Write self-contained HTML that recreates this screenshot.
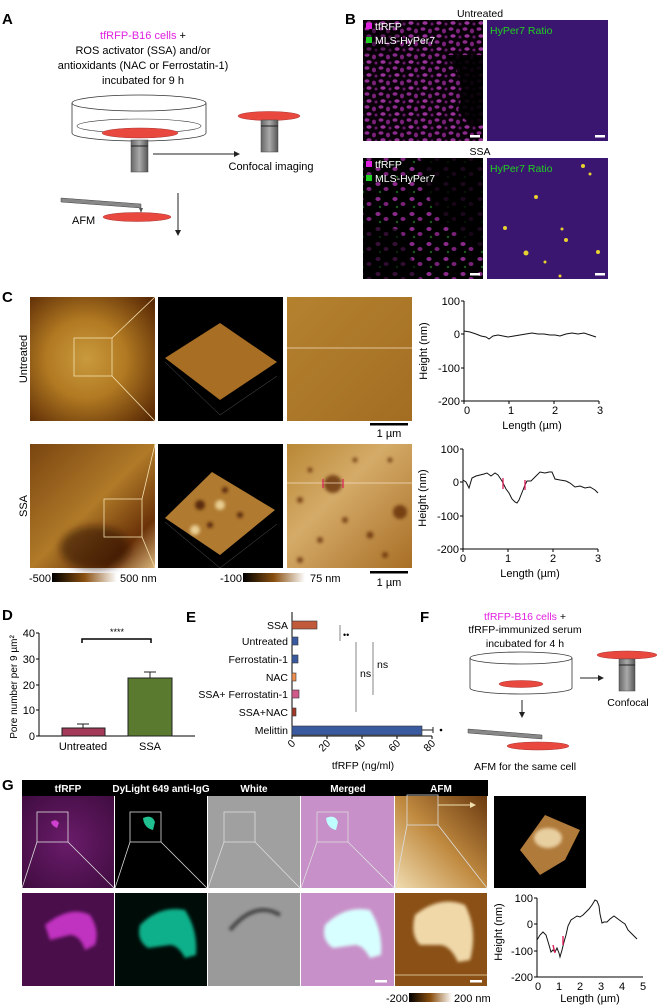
<!DOCTYPE html>
<html><head><meta charset="utf-8"><style>
html,body{margin:0;padding:0;background:#fff}
svg{display:block}
text{font-family:"Liberation Sans",Arial,sans-serif}
</style></head><body>
<svg width="657" height="1007" viewBox="0 0 657 1007" xmlns="http://www.w3.org/2000/svg">
<defs>
<filter id="bl" x="-20%" y="-20%" width="140%" height="140%"><feGaussianBlur stdDeviation="1.6"/></filter>
<filter id="bl2" x="-30%" y="-30%" width="160%" height="160%"><feGaussianBlur stdDeviation="4"/></filter>
<radialGradient id="afm1" cx="0.45" cy="0.5" r="0.7"><stop offset="0" stop-color="#c99a3e"/><stop offset="0.45" stop-color="#b27a22"/><stop offset="1" stop-color="#5a2a05"/></radialGradient>
<linearGradient id="afm2" x1="0" y1="0" x2="1" y2="1"><stop offset="0" stop-color="#7a4510"/><stop offset="0.5" stop-color="#b07a28"/><stop offset="0.8" stop-color="#6a3208"/><stop offset="1" stop-color="#d8b47a"/></linearGradient>
<linearGradient id="flat" x1="0" y1="0" x2="1" y2="1"><stop offset="0" stop-color="#b4822f"/><stop offset="1" stop-color="#a36d22"/></linearGradient>
<linearGradient id="ssa3" x1="0" y1="0" x2="1" y2="1"><stop offset="0" stop-color="#b98835"/><stop offset="0.4" stop-color="#d4ab68"/><stop offset="1" stop-color="#a86e25"/></linearGradient>
<linearGradient id="cb" x1="0" x2="1"><stop offset="0" stop-color="#000"/><stop offset="0.5" stop-color="#8a5010"/><stop offset="1" stop-color="#fff"/></linearGradient>
<linearGradient id="gafm" x1="0" y1="1" x2="1" y2="0"><stop offset="0" stop-color="#f0dcb0"/><stop offset="0.5" stop-color="#c08a40"/><stop offset="1" stop-color="#6a3a10"/></linearGradient>
<radialGradient id="gmag" cx="0.5" cy="0.5" r="0.8"><stop offset="0" stop-color="#6a1c6a"/><stop offset="1" stop-color="#3a0a3a"/></radialGradient>
<linearGradient id="obj" x1="0" x2="1"><stop offset="0" stop-color="#666"/><stop offset="0.5" stop-color="#aaa"/><stop offset="1" stop-color="#555"/></linearGradient>
<pattern id="cells" width="14" height="13" patternUnits="userSpaceOnUse">
<rect width="14" height="13" fill="#0a000a"/>
<ellipse cx="3" cy="3" rx="2.5" ry="1.8" fill="#8a2a8a"/><ellipse cx="10" cy="5" rx="2" ry="2.4" fill="#7a227a"/><ellipse cx="5" cy="10" rx="2.6" ry="1.8" fill="#9a339a"/><ellipse cx="12" cy="11" rx="1.5" ry="1.5" fill="#6a1a6a"/>
</pattern>
<pattern id="cells2" width="17" height="15" patternUnits="userSpaceOnUse">
<rect width="17" height="15" fill="#000"/>
<ellipse cx="4" cy="4" rx="2.6" ry="2" fill="#8a2a8a"/><ellipse cx="12" cy="9" rx="2.5" ry="2" fill="#7a227a"/><ellipse cx="6" cy="12" rx="1.2" ry="1.2" fill="#1a5a1a"/>
</pattern>
</defs>

<!-- Panel A -->
<text x="2" y="24" font-size="15" font-weight="bold">A</text>
<g font-size="11" text-anchor="middle">
<text x="143" y="39"><tspan fill="#e020e0">tfRFP-B16 cells</tspan> +</text>
<text x="143" y="54">ROS activator (SSA) and/or</text>
<text x="143" y="69">antioxidants (NAC or Ferrostatin-1)</text>
<text x="143" y="84">incubated for 9 h</text>
</g>
<path d="M72 103 L72 133 A67 8 0 0 0 206 133 L206 103" fill="none" stroke="#333" stroke-width="0.8"/>
<ellipse cx="139" cy="103" rx="67" ry="8" fill="none" stroke="#333" stroke-width="0.8"/>
<ellipse cx="139" cy="126" rx="62" ry="7" fill="none" stroke="#333" stroke-width="0.6"/>
<ellipse cx="140" cy="133" rx="38" ry="5" fill="#e8483e" stroke="#a33" stroke-width="0.5"/>
<rect x="131" y="140" width="17" height="32" fill="url(#obj)" stroke="#444" stroke-width="0.5"/>
<line x1="131" y1="146" x2="148" y2="146" stroke="#222"/>
<line x1="153" y1="154" x2="238" y2="154" stroke="#222"/><path d="M240 154 L234 151 L234 157 Z" fill="#222"/>
<ellipse cx="269" cy="116" rx="31" ry="4.5" fill="#e8483e" stroke="#a33" stroke-width="0.5"/>
<rect x="261" y="120" width="17" height="32" fill="url(#obj)" stroke="#444" stroke-width="0.5"/>
<line x1="261" y1="126" x2="278" y2="126" stroke="#222"/>
<text x="271" y="170" font-size="11" text-anchor="middle">Confocal imaging</text>
<polygon points="61,198 141,204 141,208 61,202" fill="#888" stroke="#444" stroke-width="0.5"/>
<path d="M139 208 L141 213 L143 208" fill="#555"/>
<ellipse cx="137" cy="217" rx="34" ry="4.5" fill="#e8483e" stroke="#a33" stroke-width="0.5"/>
<text x="72" y="224" font-size="11">AFM</text>
<line x1="178" y1="193" x2="178" y2="232" stroke="#222"/><path d="M178 236 L175 230 L181 230 Z" fill="#222"/>

<!-- Panel B -->
<text x="345" y="24" font-size="15" font-weight="bold">B</text>
<text x="480" y="17" font-size="10.5" text-anchor="middle">Untreated</text>
<rect x="363" y="20" width="120" height="121" fill="url(#cells)"/>
<path d="M445 55 Q470 80 458 110 Q470 130 483 125 L483 55 Z" fill="#000" opacity="0.9"/>
<path d="M363 30 L400 30 L395 50 L363 55 Z" fill="#000" opacity="0.4"/>
<rect x="487" y="20" width="121" height="121" fill="#3a1670"/>
<rect x="363" y="158" width="120" height="121" fill="url(#cells2)"/>
<path d="M420 158 L483 158 L483 250 Q450 235 430 200 Z" fill="#000" opacity="0.8"/>
<path d="M363 220 L400 230 L420 279 L363 279 Z" fill="#000" opacity="0.6"/>
<rect x="487" y="158" width="121" height="121" fill="#3a1670"/>
<g fill="#e8d030"><circle cx="505" cy="228" r="2"/><circle cx="536" cy="197" r="2"/><circle cx="566" cy="240" r="2"/><circle cx="526" cy="253" r="2.5"/><circle cx="598" cy="252" r="2"/><circle cx="583" cy="166" r="2"/><circle cx="590" cy="174" r="1.5"/><circle cx="545" cy="262" r="1.5"/><circle cx="562" cy="229" r="1.5"/><circle cx="560" cy="276" r="1.5"/></g>
<g font-size="10.5">
<rect x="366" y="23" width="6" height="6" fill="#e020e0"/><text x="375" y="30" fill="#fff">tfRFP</text>
<rect x="366" y="37" width="6" height="6" fill="#20d020"/><text x="375" y="44" fill="#fff">MLS-HyPer7</text>
<text x="490" y="34" fill="#20d020">HyPer7 Ratio</text>
<text x="480" y="155" text-anchor="middle" fill="#000">SSA</text>
<rect x="366" y="161" width="6" height="6" fill="#e020e0"/><text x="375" y="168" fill="#fff">tfRFP</text>
<rect x="366" y="175" width="6" height="6" fill="#20d020"/><text x="375" y="182" fill="#fff">MLS-HyPer7</text>
<text x="490" y="172" fill="#20d020">HyPer7 Ratio</text>
</g>
<g fill="#fff"><rect x="470" y="135" width="10" height="2.5"/><rect x="595" y="135" width="10" height="2.5"/><rect x="470" y="273" width="10" height="2.5"/><rect x="595" y="273" width="10" height="2.5"/></g>

<!-- Panel C -->
<text x="2" y="302" font-size="15" font-weight="bold">C</text>
<text transform="translate(27,359) rotate(-90)" font-size="11" text-anchor="middle">Untreated</text>
<text transform="translate(27,506) rotate(-90)" font-size="11" text-anchor="middle">SSA</text>
<rect x="30" y="297" width="125" height="124" fill="url(#afm1)"/>
<rect x="74" y="338" width="38" height="38" fill="none" stroke="#f4e0b0" stroke-width="0.8"/>
<rect x="158" y="297" width="125" height="124" fill="#000"/>
<polygon points="220,323 277,362 220,400 165,358" fill="#a86e24"/>
<path d="M165 362 L220 415 L277 376" fill="none" stroke="#555" stroke-width="0.5"/>
<rect x="287" y="297" width="125" height="124" fill="url(#flat)"/>
<line x1="287" y1="348" x2="412" y2="348" stroke="#f4dcc0" stroke-width="0.8"/>
<line x1="112" y1="338" x2="155" y2="297" stroke="#f4e0b0" stroke-width="0.8"/><line x1="112" y1="376" x2="155" y2="421" stroke="#f4e0b0" stroke-width="0.8"/>
<rect x="370" y="423" width="38" height="2.5" fill="#000"/>
<text x="389" y="437" font-size="11" text-anchor="middle">1 µm</text>

<rect x="30" y="444" width="125" height="124" fill="url(#afm2)"/>
<ellipse cx="95" cy="548" rx="35" ry="22" fill="#2a0e02" opacity="0.55" filter="url(#bl2)"/>
<rect x="104" y="499" width="38" height="38" fill="none" stroke="#f4e0b0" stroke-width="0.8"/>
<line x1="142" y1="499" x2="155" y2="444" stroke="#f4e0b0" stroke-width="0.8"/><line x1="142" y1="537" x2="155" y2="568" stroke="#f4e0b0" stroke-width="0.8"/>
<rect x="158" y="444" width="125" height="124" fill="#000"/>
<polygon points="212,472 275,510 220,555 165,518" fill="#b07a30"/>
<g fill="#5a2a08" filter="url(#bl)"><circle cx="200" cy="505" r="5"/><circle cx="225" cy="490" r="3"/><circle cx="240" cy="515" r="3"/><circle cx="210" cy="525" r="3"/></g>
<g fill="#e8cc90" filter="url(#bl)"><circle cx="220" cy="505" r="5"/><circle cx="195" cy="530" r="5"/></g>
<path d="M165 522 L220 568 L277 524" fill="none" stroke="#555" stroke-width="0.5"/>
<rect x="287" y="444" width="125" height="124" fill="url(#ssa3)"/>
<g fill="#5a2406" opacity="0.7" filter="url(#bl)"><circle cx="333" cy="484" r="9"/><circle cx="400" cy="512" r="7"/><circle cx="310" cy="470" r="2.5"/><circle cx="300" cy="500" r="3"/><circle cx="345" cy="520" r="3"/><circle cx="320" cy="540" r="3"/><circle cx="370" cy="535" r="3.5"/><circle cx="355" cy="460" r="2.5"/><circle cx="390" cy="460" r="2.5"/><circle cx="300" cy="560" r="3"/><circle cx="385" cy="555" r="3"/></g>
<line x1="287" y1="483" x2="412" y2="483" stroke="#f4dcc0" stroke-width="0.8"/>
<line x1="323" y1="479" x2="323" y2="488" stroke="#e0205a" stroke-width="1.2"/><line x1="343" y1="479" x2="343" y2="488" stroke="#e0205a" stroke-width="1.2"/>
<rect x="52" y="573" width="65" height="9" fill="url(#cb)"/>
<rect x="243" y="573" width="62" height="9" fill="url(#cb)"/>
<g font-size="11"><text x="51" y="582" text-anchor="end">-500</text><text x="120" y="582">500 nm</text><text x="242" y="582" text-anchor="end">-100</text><text x="310" y="582">75 nm</text></g>
<rect x="370" y="571" width="38" height="2.5" fill="#000"/>
<text x="389" y="586" font-size="11" text-anchor="middle">1 µm</text>

<!-- C charts -->
<g font-size="11" stroke-width="1">
<path d="M464 301 L464 401 L599 401" fill="none" stroke="#000"/>
<g stroke="#000"><line x1="461" y1="301" x2="464" y2="301"/><line x1="461" y1="334" x2="464" y2="334"/><line x1="461" y1="368" x2="464" y2="368"/><line x1="461" y1="401" x2="464" y2="401"/>
<line x1="464" y1="401" x2="464" y2="404"/><line x1="509" y1="401" x2="509" y2="404"/><line x1="554" y1="401" x2="554" y2="404"/><line x1="599" y1="401" x2="599" y2="404"/></g>
<g text-anchor="end"><text x="460" y="305">100</text><text x="460" y="338">0</text><text x="460" y="372">-100</text><text x="460" y="405">-200</text></g>
<g text-anchor="middle"><text x="467" y="414">0</text><text x="511" y="414">1</text><text x="555" y="414">2</text><text x="600" y="414">3</text></g>
<text x="532" y="429" text-anchor="middle">Length (µm)</text>
<text transform="translate(427,351) rotate(-90)" text-anchor="middle">Height (nm)</text>
<polyline fill="none" stroke="#111" points="464,331 470,332 476,334 481,336 486,337 489,339 493,336 498,335 503,336 508,337 514,336 520,335 526,334 532,333 538,334 544,334 550,335 555,335 560,336 566,334 572,333 578,334 584,333 590,335 596,337"/>

<path d="M463 449 L463 549 L598 549" fill="none" stroke="#000"/>
<g stroke="#000"><line x1="460" y1="449" x2="463" y2="449"/><line x1="460" y1="482" x2="463" y2="482"/><line x1="460" y1="516" x2="463" y2="516"/><line x1="460" y1="549" x2="463" y2="549"/>
<line x1="463" y1="549" x2="463" y2="552"/><line x1="508" y1="549" x2="508" y2="552"/><line x1="553" y1="549" x2="553" y2="552"/><line x1="598" y1="549" x2="598" y2="552"/></g>
<g text-anchor="end"><text x="459" y="453">100</text><text x="459" y="486">0</text><text x="459" y="520">-100</text><text x="459" y="553">-200</text></g>
<g text-anchor="middle"><text x="463" y="562">0</text><text x="508" y="562">1</text><text x="553" y="562">2</text><text x="598" y="562">3</text></g>
<text x="530" y="577" text-anchor="middle">Length (µm)</text>
<text transform="translate(426,498) rotate(-90)" text-anchor="middle">Height (nm)</text>
<polyline fill="none" stroke="#111" points="463,480 466,482 469,488 472,478 476,476 480,475 484,474 487,473 491,476 495,473 498,475 502,481 504,485 506,489 509,493 512,499 515,502 517,503 519,500 521,495 523,490 525,485 527,481 531,481 535,477 540,472 545,473 549,472 552,472 555,479 560,480 566,481 570,483 575,487 580,486 585,488 590,487 595,490 598,493"/>
<line x1="503" y1="478" x2="503" y2="489" stroke="#e0205a" stroke-width="1.3"/><line x1="525" y1="480" x2="525" y2="490" stroke="#e0205a" stroke-width="1.3"/>
</g>

<!-- Panel D -->
<text x="2" y="620" font-size="15" font-weight="bold">D</text>
<g font-size="11">
<path d="M39 633 L39 736 L195 736" fill="none" stroke="#000"/>
<g stroke="#000"><line x1="36" y1="633" x2="39" y2="633"/><line x1="36" y1="659" x2="39" y2="659"/><line x1="36" y1="685" x2="39" y2="685"/><line x1="36" y1="710" x2="39" y2="710"/><line x1="36" y1="736" x2="39" y2="736"/></g>
<g text-anchor="end"><text x="35" y="637">40</text><text x="35" y="663">30</text><text x="35" y="689">20</text><text x="35" y="714">10</text><text x="35" y="740">0</text></g>
<rect x="62" y="728" width="43" height="8" fill="#a33a5a" stroke="#222"/>
<path d="M83 728 L83 724 M77 724 L89 724" stroke="#222"/>
<rect x="128" y="678" width="44" height="58" fill="#5a7a30" stroke="#222"/>
<path d="M150 678 L150 672 M144 672 L156 672" stroke="#222"/>
<path d="M82 643 L82 639 L151 639 L151 643" fill="none" stroke="#000" stroke-width="1.5"/>
<text x="117" y="635" text-anchor="middle" font-size="9">****</text>
<text x="83" y="750" text-anchor="middle">Untreated</text><text x="150" y="750" text-anchor="middle">SSA</text>
<text transform="translate(17,687) rotate(-90)" text-anchor="middle" font-size="10">Pore number per 9 µm²</text>
</g>

<!-- Panel E -->
<text x="186" y="622" font-size="15" font-weight="bold">E</text>
<g font-size="10.5">
<path d="M292 612 L292 736 L432 736" fill="none" stroke="#000"/>
<g text-anchor="end">
<text x="288" y="629">SSA</text><text x="288" y="645">Untreated</text><text x="288" y="663">Ferrostatin-1</text><text x="288" y="681">NAC</text><text x="288" y="698">SSA+ Ferrostatin-1</text><text x="288" y="716">SSA+NAC</text><text x="288" y="734">Melittin</text>
</g>
<rect x="292" y="621" width="25" height="8" fill="#c05a3a" stroke="#333" stroke-width="0.6"/>
<rect x="292" y="637" width="6" height="8" fill="#3a5aa0" stroke="#333" stroke-width="0.6"/>
<rect x="292" y="655" width="6" height="8" fill="#3a5aa0" stroke="#333" stroke-width="0.6"/>
<rect x="292" y="673" width="4" height="8" fill="#f09050" stroke="#333" stroke-width="0.6"/>
<rect x="292" y="690" width="7" height="8" fill="#d05a8a" stroke="#333" stroke-width="0.6"/>
<rect x="292" y="708" width="4" height="8" fill="#a03a2a" stroke="#333" stroke-width="0.6"/>
<rect x="292" y="726" width="130" height="9" fill="#3a5aa0" stroke="#333" stroke-width="0.6"/>
<path d="M422 730 L433 730 M433 727 L433 733" stroke="#222"/><circle cx="441" cy="730" r="1.3"/>
<g stroke="#999" stroke-width="1.2"><line x1="340" y1="625" x2="340" y2="641"/><line x1="356" y1="642" x2="356" y2="712"/><line x1="373" y1="642" x2="373" y2="695"/></g>
<text x="343" y="638" font-size="9">••</text>
<text x="360" y="677">ns</text><text x="377" y="668">ns</text>
<g stroke="#000"><line x1="292" y1="736" x2="292" y2="739"/><line x1="327" y1="736" x2="327" y2="739"/><line x1="362" y1="736" x2="362" y2="739"/><line x1="397" y1="736" x2="397" y2="739"/><line x1="432" y1="736" x2="432" y2="739"/></g>
<g text-anchor="end"><text transform="translate(296,744) rotate(-45)">0</text><text transform="translate(331,744) rotate(-45)">20</text><text transform="translate(366,744) rotate(-45)">40</text><text transform="translate(401,744) rotate(-45)">60</text><text transform="translate(436,744) rotate(-45)">80</text></g>
<text x="363" y="769" text-anchor="middle">tfRFP (ng/ml)</text>
</g>

<!-- Panel F -->
<text x="420" y="622" font-size="15" font-weight="bold">F</text>
<g font-size="10.5" text-anchor="middle">
<text x="525" y="620"><tspan fill="#e020e0">tfRFP-B16 cells</tspan> +</text>
<text x="525" y="633">tfRFP-immunized serum</text>
<text x="525" y="647">incubated for 4 h</text>
<text x="628" y="706">Confocal</text>
<text x="525" y="770">AFM for the same cell</text>
</g>
<path d="M470 658 L470 688 A51 6 0 0 0 572 688 L572 658" fill="none" stroke="#333" stroke-width="0.8"/>
<ellipse cx="521" cy="658" rx="51" ry="6" fill="none" stroke="#333" stroke-width="0.8"/>
<ellipse cx="521" cy="684" rx="22" ry="3.5" fill="#e8483e" stroke="#a33" stroke-width="0.5"/>
<line x1="580" y1="678" x2="600" y2="678" stroke="#222"/><path d="M604 678 L598 675 L598 681 Z" fill="#222"/>
<ellipse cx="627" cy="655" rx="30" ry="4" fill="#e8483e" stroke="#a33" stroke-width="0.5"/>
<rect x="619" y="659" width="16" height="32" fill="url(#obj)" stroke="#444" stroke-width="0.5"/>
<line x1="619" y1="665" x2="635" y2="665" stroke="#222"/>
<line x1="522" y1="700" x2="522" y2="714" stroke="#222"/><path d="M522 718 L519 712 L525 712 Z" fill="#222"/>
<polygon points="468,729 542,735 542,739 468,733" fill="#888" stroke="#444" stroke-width="0.5"/>
<ellipse cx="538" cy="746" rx="31" ry="4" fill="#e8483e" stroke="#a33" stroke-width="0.5"/>

<!-- Panel G -->
<text x="2" y="790" font-size="15" font-weight="bold">G</text>
<rect x="22" y="780" width="466" height="16" fill="#000"/>
<g font-size="10" font-weight="bold" fill="#fff" text-anchor="middle">
<text x="68" y="792">tfRFP</text><text x="161" y="792">DyLight 649 anti-IgG</text><text x="254" y="792">White</text><text x="348" y="792">Merged</text><text x="441" y="792">AFM</text>
</g>
<rect x="22" y="796" width="92" height="92" fill="url(#gmag)"/>
<rect x="115" y="796" width="92" height="92" fill="#000"/>
<rect x="208" y="796" width="92" height="92" fill="#a0a0a0"/>
<rect x="301" y="796" width="93" height="92" fill="#c890c8"/>
<rect x="395" y="796" width="92" height="92" fill="url(#gafm)"/>
<rect x="494" y="796" width="92" height="92" fill="#000"/>
<polygon points="520,850 545,815 580,830 565,860 540,875" fill="#b07a3a"/>
<ellipse cx="548" cy="838" rx="14" ry="10" fill="#e8cfa0" filter="url(#bl)"/>
<g fill="none" stroke="#ddd" stroke-width="0.8">
<rect x="37" y="812" width="31" height="30"/><rect x="130" y="812" width="31" height="30"/><rect x="224" y="812" width="31" height="30"/><rect x="317" y="812" width="31" height="30"/><rect x="407" y="795" width="31" height="30"/>
<path d="M37 842 L22 888 M68 842 L114 888 M130 842 L115 888 M161 842 L207 888 M224 842 L208 888 M255 842 L300 888 M317 842 L301 888 M348 842 L394 888 M407 825 L395 888 M438 825 L487 888"/>
</g>
<line x1="438" y1="805" x2="472" y2="805" stroke="#f0e0b0"/><path d="M476 805 L470 802 L470 808 Z" fill="#f0e0b0"/>
<path d="M51 822 Q56 818 59 823 L57 828 Q52 826 51 822 Z" fill="#d040d0"/>
<path d="M143 818 Q152 814 155 822 L153 830 Q144 828 143 818 Z" fill="#20c090"/>
<path d="M326 818 Q335 814 338 822 L336 830 Q327 828 326 818 Z" fill="#c0ffff"/>
<rect x="22" y="893" width="92" height="93" fill="#4a0e4a"/>
<path d="M45 925 Q70 905 90 915 Q100 930 95 945 L85 950 Q80 935 70 935 L50 940 Z" fill="#c030c0" filter="url(#bl)"/>
<rect x="115" y="893" width="92" height="93" fill="#000c08"/>
<path d="M140 925 Q160 905 185 910 Q198 930 196 955 L185 958 Q178 945 170 945 L148 948 Q136 940 140 925 Z" fill="#10b08a" filter="url(#bl)"/>
<rect x="208" y="893" width="92" height="93" fill="#9a9a9a"/>
<path d="M230 930 Q255 900 280 915" fill="none" stroke="#444" stroke-width="4" filter="url(#bl)"/>
<rect x="301" y="893" width="93" height="93" fill="#c890c8"/>
<path d="M325 925 Q345 905 370 910 Q383 930 381 955 L370 958 Q363 945 355 945 L333 948 Q321 940 325 925 Z" fill="#d8ffff" filter="url(#bl)"/>
<rect x="395" y="893" width="92" height="93" fill="#8a5016"/>
<path d="M415 915 Q440 895 465 905 Q478 930 470 960 L458 962 Q450 945 440 945 L420 945 Q410 935 415 915 Z" fill="#f0d8a8" filter="url(#bl)"/>
<line x1="395" y1="975" x2="487" y2="975" stroke="#f0e0b0" stroke-width="0.8"/>
<rect x="375" y="980" width="12" height="2.5" fill="#fff"/><rect x="470" y="980" width="12" height="2.5" fill="#fff"/>
<rect x="409" y="993" width="43" height="9" fill="url(#cb)"/>
<g font-size="11"><text x="408" y="1002" text-anchor="end">-200</text><text x="454" y="1002">200 nm</text></g>
<g font-size="11">
<path d="M537 898 L537 977 L643 977" fill="none" stroke="#000"/>
<g stroke="#000"><line x1="534" y1="898" x2="537" y2="898"/><line x1="534" y1="924" x2="537" y2="924"/><line x1="534" y1="951" x2="537" y2="951"/><line x1="534" y1="977" x2="537" y2="977"/></g>
<g text-anchor="end"><text x="533" y="902">100</text><text x="533" y="928">0</text><text x="533" y="955">-100</text><text x="533" y="981">-200</text></g>
<g text-anchor="middle"><text x="538" y="990">0</text><text x="559" y="990">1</text><text x="580" y="990">2</text><text x="601" y="990">3</text><text x="622" y="990">4</text><text x="643" y="990">5</text></g>
<text x="590" y="1002" text-anchor="middle">Length (µm)</text>
<text transform="translate(502,932) rotate(-90)" text-anchor="middle">Height (nm)</text>
<polyline fill="none" stroke="#111" points="537,940 540,935 543,932 546,935 549,945 551,952 553,950 555,952 557,948 559,953 560,957 562,950 564,942 566,935 568,926 571,920 574,918 577,916 580,917 583,915 586,912 589,909 592,905 595,900 597,901 599,906 600,914 602,923 604,922 607,922 610,919 614,916 618,919 622,922 625,924 628,930 631,933 634,936 637,939"/>
<line x1="553" y1="945" x2="555" y2="953" stroke="#e0205a" stroke-width="1.4"/><line x1="563" y1="936" x2="563" y2="945" stroke="#e0205a" stroke-width="1.4"/>
</g>
</svg>
</body></html>
